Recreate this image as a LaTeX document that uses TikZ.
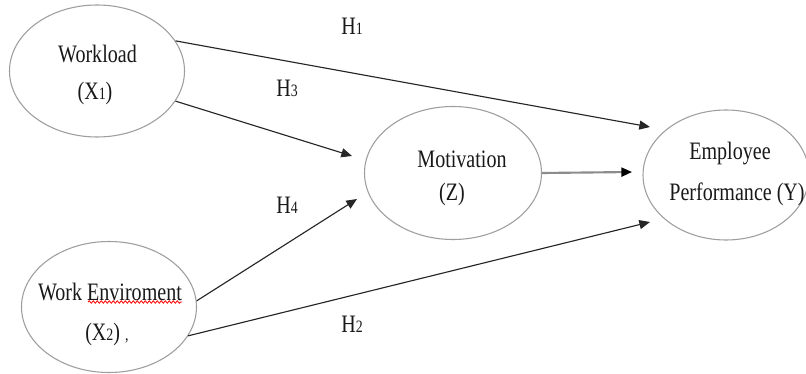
\documentclass[tikz,border=0pt]{standalone}
\usepackage{fontspec}
\setmainfont{Liberation Serif}[FakeStretch=0.8]
\usetikzlibrary{arrows.meta,shapes.geometric,decorations.pathmorphing}
\newcommand{\smdig}[1]{{\fontsize{13}{13}\selectfont #1}}
\begin{document}
\begin{tikzpicture}[x=0.75pt,y=-0.75pt,
  ell/.style={draw=black!38,line width=0.8pt,ellipse,inner sep=0pt},
  txt/.style={inner sep=0pt,font=\fontsize{18.8}{22}\selectfont,text=black!90,anchor=base},
  arr/.style={draw=black!85,line width=0.85pt,-{Triangle[length=8pt,width=6.8pt]}},
  garr/.style={draw=black!45,line width=1.6pt,-{Triangle[length=8pt,width=6.8pt,color=black]}}]
\fill[white] (0,0) rectangle (806,374);
\useasboundingbox (0,0) rectangle (806,374);
% ellipses
\node[ell,minimum width=131.25pt,minimum height=99pt] (wl) at (97,71) {};
\node[ell,minimum width=131.25pt,minimum height=98.25pt] (we) at (109,307) {};
\node[ell,minimum width=132.75pt,minimum height=99.75pt] (mo) at (453,173) {};
\node[ell,minimum width=124.5pt,minimum height=97.5pt] (ep) at (726,175) {};
% texts
\node[txt] (wl1) at (97.5,63) {Workload};
\node[txt] (wl2) at (95,100) {(X\smdig{1})};
\node[txt] (we1) at (110,300) {Work Enviroment};
\node[txt,anchor=base west] (we2) at (85,340) {(X\smdig{2})\ \smdig{,}};
\node[txt] (mo1) at (462,167) {Motivation};
\node[txt] (mo2) at (452,200) {(Z)};
\node[txt] (ep1) at (730,160) {Employee};
\node[txt] (ep2) at (737,200) {Performance (Y)};
% spell-check squiggle
\coordinate (sq1) at (88,302);
\coordinate (sq2) at (182,302);
\draw[red,line width=0.6pt,decorate,decoration={snake,amplitude=0.9pt,segment length=3pt}] (sq1) -- (sq2);
% arrow ends
\coordinate (h1e) at (650,127);
\coordinate (h3e) at (352,156);
\coordinate (h4e) at (357,199);
\coordinate (h2e) at (650,222);
\coordinate (mee) at (632,172);
\draw[arr] (wl.21.6) -- (h1e);
\draw[arr] (wl.-21) -- (h3e);
\draw[arr] (we.4.7) -- (h4e);
\draw[arr] (we.-20) -- (h2e);
\draw[garr] (mo.east) -- (mee);
% hypothesis labels
\node[txt] (lh1) at (352,35) {H\smdig{1}};
\node[txt] (lh3) at (287,97) {H\smdig{3}};
\node[txt] (lh4) at (287,213) {H\smdig{4}};
\node[txt] (lh2) at (352,332) {H\smdig{2}};
\end{tikzpicture}
\end{document}
